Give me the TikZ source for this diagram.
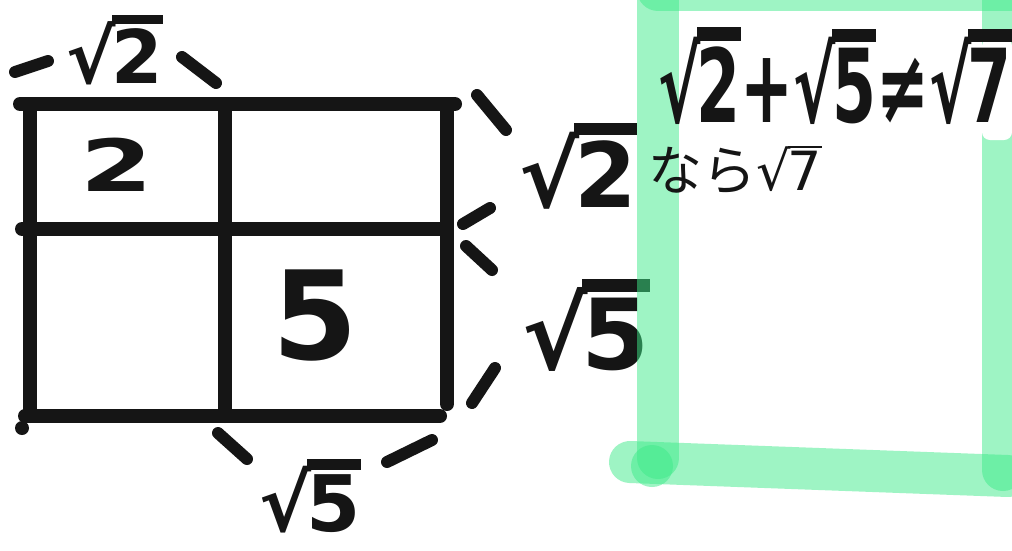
\documentclass[tikz,border=0pt]{standalone}
\usepackage{fontspec}
\setmainfont{DejaVu Sans}
\newfontfamily\cjk{Noto Sans CJK JP}
\definecolor{ink}{HTML}{151515}
\definecolor{mint}{HTML}{3EEB8A}
\newcommand\hrt[1]{\textbf{√}\kern-0.06em\vbox{\hrule height 0.13em\kern0.06em\hbox{\textbf{#1}}}}
\newcommand\thinrt[1]{√\kern-0.05em\vbox{\hrule height 0.04em\kern0.06em\hbox{#1}}}
\begin{document}
\begin{tikzpicture}[x=1pt,y=-1pt,
  inkline/.style={line width=14pt,line cap=round,draw=ink},
  tickmark/.style={line width=12pt,line cap=round,draw=ink},
  frame/.style={line width=42pt,line cap=round,draw=mint,opacity=0.5},
  lab/.style={text=ink,inner sep=0pt},
]
\useasboundingbox (0,0) rectangle (1012,550);
\fill[white] (0,0) rectangle (1012,550);
% grid
\draw[inkline] (20,104) -- (455,104);
\draw[inkline] (22,229) -- (445,229);
\draw[inkline] (25,416) -- (440,416);
\draw[inkline] (30,104) -- (30,416);
\draw[inkline] (225,104) -- (225,416);
\draw[inkline] (447,110) -- (447,404);
\fill[ink] (22,428) circle (7);
\fill[ink] (210,229) circle (7);
% cell labels
\node[lab,font=\fontsize{72}{72}\selectfont\bfseries] (c2) at (117,165) {\scalebox{1.45}[1]{2}};
\node[lab,font=\fontsize{123}{123}\selectfont\bfseries] (c5) at (315,316) {5};
% ticks
\draw[tickmark] (15,72) -- (48,61);
\draw[tickmark] (182,57) -- (216,83);
\draw[tickmark] (477,95) -- (506,130);
\draw[tickmark] (490,208) -- (463,224);
\draw[tickmark] (466,246) -- (492,270);
\draw[tickmark] (495,368) -- (472,403);
\draw[tickmark] (218,433) -- (247,459);
\draw[tickmark] (387,462) -- (432,440);
% side labels
\node[lab,font=\fontsize{74}{74}\selectfont] (t2) at (115,50) {\hrt{2}};
\node[lab,font=\fontsize{90}{90}\selectfont] (r2) at (578,166) {\hrt{2}};
\node[lab,font=\fontsize{98}{98}\selectfont] (r5) at (586,325) {\hrt{5}};
\node[lab,font=\fontsize{78}{78}\selectfont] (b5) at (310,496) {\hrt{5}};
% green frame
\draw[frame] (658,-10) -- (1012,-10);
\draw[frame] (658,0) -- (658,458);
\draw[frame] (1003,0) -- (1003,470);
\draw[frame] (630,462) -- (1008,476);
\fill[mint,opacity=0.5] (652,466) circle (21);
% white patch behind the end of the heading
\fill[white,rounded corners=8pt] (982,38) rectangle (1012,140);
% heading
\node[lab,anchor=west,font=\fontsize{102}{102}\selectfont] (eq) at (658,76) {\scalebox{0.62}[1]{\hrt{2}\textbf{+}\hrt{5}\textbf{≠}\hrt{7}}};
\node[lab,anchor=west,font=\fontsize{54}{54}\selectfont] (nara) at (648,170) {{\cjk なら}\thinrt{7}};
\end{tikzpicture}
\end{document}
